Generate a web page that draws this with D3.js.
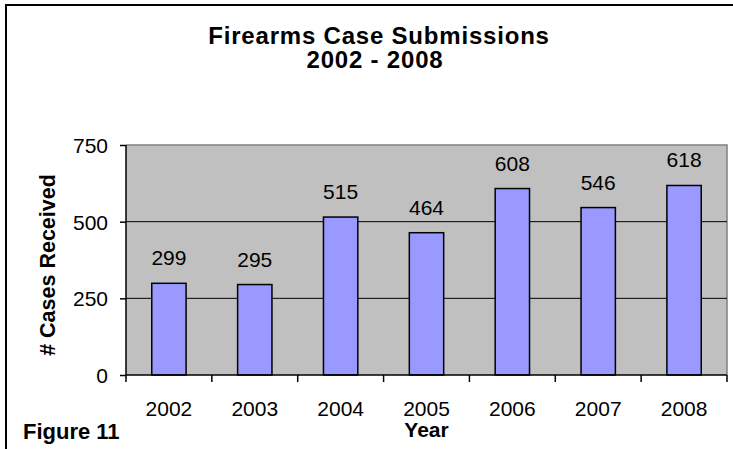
<!DOCTYPE html>
<html><head><meta charset="utf-8">
<script src="https://cdn.jsdelivr.net/npm/d3@7"></script>
<style>html,body{margin:0;padding:0;background:#fff;}svg{display:block;}</style>
</head><body>
<script>
const years = ["2002","2003","2004","2005","2006","2007","2008"];
const cases = [299,295,515,464,608,546,618];
const yTicks = [0,250,500,750];
const titleLines = ["Firearms Case Submissions","2002 - 2008"];

const W=733,H=449;
const svg=d3.select("body").append("svg").attr("width",W).attr("height",H);
const font="Liberation Sans, Arial, sans-serif";
// outer frame
svg.append("rect").attr("x",6).attr("y",5).attr("width",760).attr("height",470)
  .attr("fill","#fff").attr("stroke","#000").attr("stroke-width",2);

const L=126,R=727,T=145,B=375;
const x=d3.scaleBand().domain(years).range([L,R]).padding(0);
const y=d3.scaleLinear().domain([0,750]).range([B,T]);

svg.append("rect").attr("x",L).attr("y",T).attr("width",R-L).attr("height",B-T).attr("fill","#C0C0C0");
// plot border top/right gray
svg.append("path").attr("d",`M${L},${T}H${R}V${B}`).attr("fill","none").attr("stroke","#808080").attr("stroke-width",1.5);
// gridlines
svg.selectAll("line.grid").data(yTicks.filter(d=>d>0&&d<750)).enter().append("line")
  .attr("x1",L).attr("x2",R).attr("y1",d=>y(d)).attr("y2",d=>y(d))
  .attr("stroke","#000").attr("stroke-width",1);

const bw=x.bandwidth()*0.4;
svg.selectAll("rect.bar").data(years).enter().append("rect")
  .attr("x",(d)=>x(d)+x.bandwidth()/2-bw/2).attr("width",bw)
  .attr("y",(d,i)=>y(cases[i])).attr("height",(d,i)=>B-y(cases[i]))
  .attr("fill","#9999FF").attr("stroke","#000").attr("stroke-width",1.5);

svg.selectAll("text.val").data(years).enter().append("text")
  .attr("x",d=>x(d)+x.bandwidth()/2).attr("y",(d,i)=>y(cases[i])-18)
  .attr("text-anchor","middle").attr("font-family",font).attr("font-size",21).attr("fill","#000")
  .text((d,i)=>cases[i]);

// axes
const ya=d3.axisLeft(y).tickValues(yTicks).tickSize(6).tickPadding(12);
const gy=svg.append("g").attr("transform",`translate(${L},0)`).call(ya);
gy.select(".domain").attr("stroke","#000").attr("stroke-width",1.5).attr("d",`M0,${B}V${T}`);
gy.selectAll(".tick line").attr("stroke","#000").attr("stroke-width",1.5);
gy.selectAll(".tick text").attr("font-family",font).attr("font-size",21).attr("fill","#000").attr("dy","0.35em");

const xa=d3.axisBottom(x).tickSize(0).tickPadding(26);
const gx=svg.append("g").attr("transform",`translate(0,${B})`).call(xa);
gx.select(".domain").attr("stroke","#000").attr("stroke-width",1.5).attr("d",`M${L},0H${R}`);
gx.selectAll(".tick text").attr("font-family",font).attr("font-size",21).attr("fill","#000").attr("dy","0.71em").attr("y",26);
// boundary ticks
const bounds=years.map(d=>x(d)).concat([R]);
gx.selectAll("line.bt").data(bounds).enter().append("line")
  .attr("x1",d=>d).attr("x2",d=>d).attr("y1",0).attr("y2",7).attr("stroke","#000").attr("stroke-width",1.5);

// titles
svg.selectAll("text.title").data(titleLines).enter().append("text")
  .attr("x",(d,i)=>i===0?379:375).attr("y",(d,i)=>44+i*24).attr("text-anchor","middle")
  .attr("font-family",font).attr("font-weight","bold").attr("font-size",24)
  .attr("letter-spacing",0.8).text(d=>d);

svg.append("text").attr("transform","translate(55,265) rotate(-90)").attr("text-anchor","middle")
  .attr("font-family",font).attr("font-weight","bold").attr("font-size",21.5).text("# Cases Received");
svg.append("text").attr("x",(L+R)/2).attr("y",437).attr("text-anchor","middle")
  .attr("font-family",font).attr("font-weight","bold").attr("font-size",21).text("Year");
svg.append("text").attr("x",23).attr("y",439).attr("font-family",font).attr("font-weight","bold").attr("font-size",22).text("Figure 11");
</script>
</body></html>
